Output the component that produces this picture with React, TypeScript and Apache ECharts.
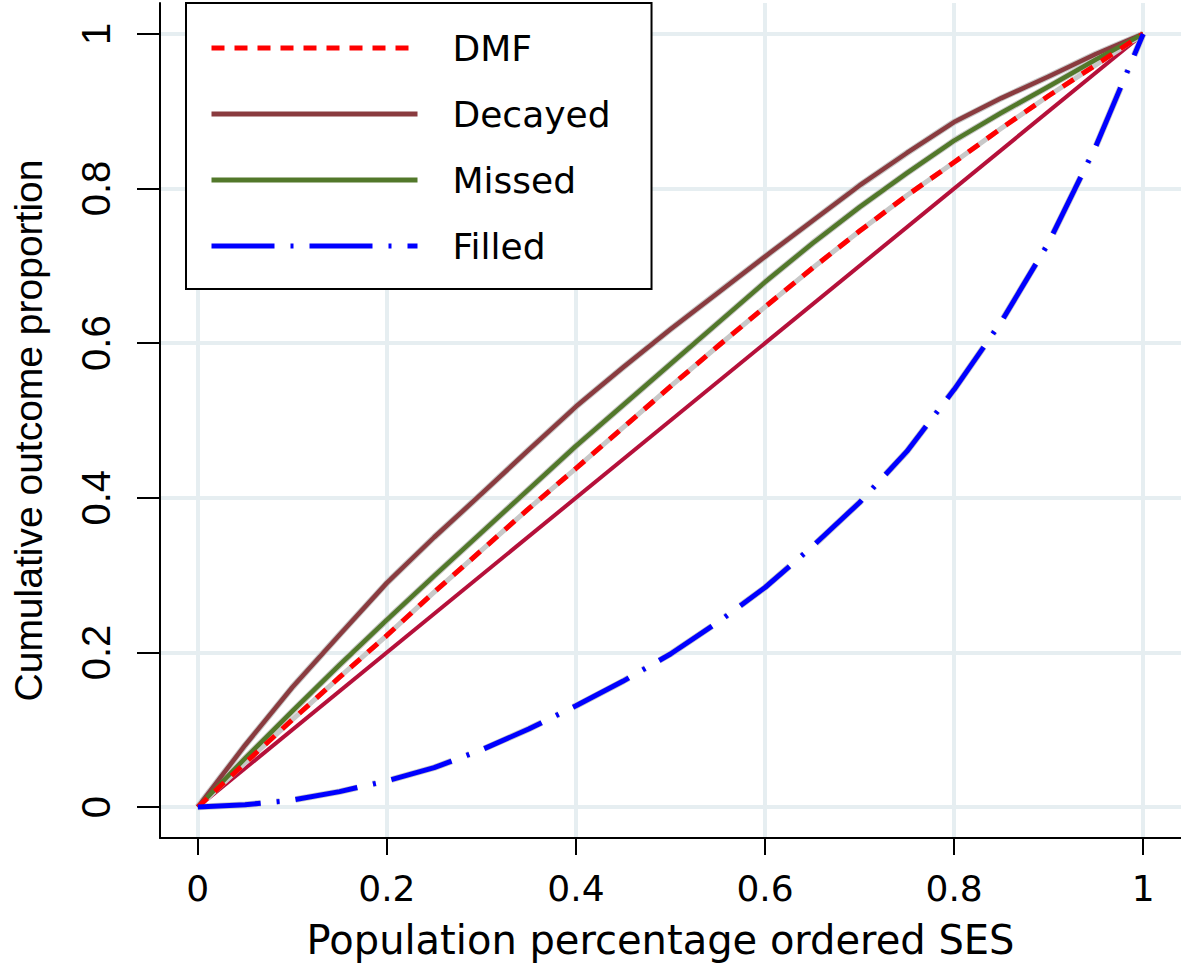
import React, { useEffect, useRef } from "react";
import * as echarts from "echarts";

// Population percentage (ordered by SES)
const xValues = [0, 0.05, 0.1, 0.15, 0.2, 0.25, 0.3, 0.35, 0.4, 0.45, 0.5, 0.55, 0.6, 0.65, 0.7, 0.75, 0.8, 0.85, 0.9, 0.95, 1];
const dmf = [0, 0.057, 0.113, 0.168, 0.222, 0.278, 0.332, 0.386, 0.438, 0.491, 0.544, 0.596, 0.647, 0.697, 0.745, 0.791, 0.834, 0.878, 0.92, 0.96, 1];
const decayed = [0, 0.08, 0.155, 0.223, 0.29, 0.349, 0.405, 0.462, 0.518, 0.569, 0.618, 0.665, 0.712, 0.758, 0.804, 0.846, 0.886, 0.917, 0.945, 0.974, 1];
const missed = [0, 0.063, 0.124, 0.184, 0.242, 0.299, 0.355, 0.411, 0.467, 0.52, 0.573, 0.626, 0.679, 0.729, 0.776, 0.82, 0.862, 0.898, 0.932, 0.967, 1];
const filled = [0, 0.003, 0.009, 0.02, 0.034, 0.051, 0.074, 0.101, 0.131, 0.163, 0.198, 0.239, 0.284, 0.337, 0.394, 0.46, 0.54, 0.628, 0.73, 0.855, 1];
const equalityX = [0, 1];
const equalityY = [0, 1];
const tickValues = [0, 0.2, 0.4, 0.6, 0.8, 1];
const legendNames = ["DMF", "Decayed", "Missed", "Filled"];

const pairs = (xs: number[], ys: number[]) => xs.map((x, i) => [x, ys[i]]);

export default function App() {
  const ref = useRef<HTMLDivElement>(null);
  useEffect(() => {
    if (!ref.current) return;
    const chart = echarts.init(ref.current, null, { renderer: "svg" });
    const sans = "DejaVu Sans";
    const lib = "Liberation Sans";
    const gray = "#c8c8c8";
    const curve = (name: string, ys: number[], color: string, width: number, type: any, z: number) => ({
      name,
      type: "line",
      data: pairs(xValues, ys),
      showSymbol: false,
      symbol: "none",
      smooth: false,
      z,
      lineStyle: { color, width, type, cap: "butt", join: "round" },
      itemStyle: { color },
      silent: true,
    });
    chart.setOption({
      animation: false,
      backgroundColor: "#ffffff",
      grid: { left: 160, right: 0, top: 3, bottom: 126, containLabel: false, outerBoundsMode: "none" },
      legend: {
        data: legendNames,
        orient: "vertical",
        left: 186,
        top: 3,
        z: 20,
        itemWidth: 206,
        itemHeight: 14,
        itemGap: 26,
        padding: [25, 41, 23, 23],
        borderColor: "#000000",
        borderWidth: 2,
        backgroundColor: "#ffffff",
        selectedMode: false,
        itemStyle: { opacity: 0, borderWidth: 0 },
        lineStyle: { width: 5, type: "inherit", cap: "butt" },
        textStyle: { fontFamily: sans, fontSize: 36, color: "#000000", lineHeight: 40, padding: [0, 0, 0, 30] },
      },
      xAxis: {
        type: "value",
        min: -0.04,
        max: 1.04,
        name: "Population percentage ordered SES",
        nameLocation: "middle",
        nameGap: 82,
        nameTextStyle: { fontFamily: sans, fontSize: 40, color: "#000000", padding: [0, 20, 0, 0] },
        axisLine: { show: true, onZero: false, lineStyle: { color: "#000000", width: 2 } },
        axisTick: { show: true, length: 17, customValues: tickValues, lineStyle: { color: "#000000", width: 2 } },
        axisLabel: { customValues: tickValues, fontFamily: sans, fontSize: 36, color: "#000000", margin: 32 },
        splitLine: { show: false },
      },
      yAxis: {
        type: "value",
        min: -0.04,
        max: 1.04,
        name: "Cumulative outcome proportion",
        nameLocation: "middle",
        nameGap: 112,
        nameRotate: 90,
        nameTextStyle: { fontFamily: lib, fontSize: 39, color: "#000000", padding: [0, 20, 0, 0] },
        axisLine: { show: true, onZero: false, lineStyle: { color: "#000000", width: 2 } },
        axisTick: { show: true, length: 23, customValues: tickValues, lineStyle: { color: "#000000", width: 2 } },
        axisLabel: { customValues: tickValues, rotate: 90, fontFamily: lib, fontSize: 40, color: "#000000", margin: 44 },
        splitLine: { show: false },
      },
      series: [
        {
          name: "grid",
          type: "line",
          data: [],
          z: 0,
          silent: true,
          markLine: {
            z: 0,
            silent: true,
            symbol: ["none", "none"],
            label: { show: false },
            animation: false,
            lineStyle: { color: "#e6eef1", width: 4, type: "solid" },
            data: [...tickValues.map((v) => ({ xAxis: v })), ...tickValues.map((v) => ({ yAxis: v }))],
          },
        },
        {
          name: "Equality",
          type: "line",
          data: pairs(equalityX, equalityY),
          showSymbol: false,
          symbol: "none",
          z: 2,
          silent: true,
          lineStyle: { color: "#b5103a", width: 4 },
        },
        curve("Decayed CI", decayed, gray, 6.5, "solid", 3),
        curve("Missed CI", missed, gray, 6.5, "solid", 3),
        curve("DMF CI", dmf, gray, 5, "solid", 3),
        curve("Filled CI", filled, gray, 6.5, [63, 16, 3, 16], 3),
        curve("Decayed", decayed, "#8a3b3f", 4.5, "solid", 4),
        curve("Missed", missed, "#52782a", 4.5, "solid", 4),
        curve("DMF", dmf, "#ff0000", 5, [13, 10], 4),
        curve("Filled", filled, "#0000ff", 5, [63, 16, 3, 16], 4),
      ],
    });
    return () => chart.dispose();
  }, []);
  return <div ref={ref} style={{ position: "absolute", left: 0, top: 0, width: 1181, height: 964 }} />;
}
